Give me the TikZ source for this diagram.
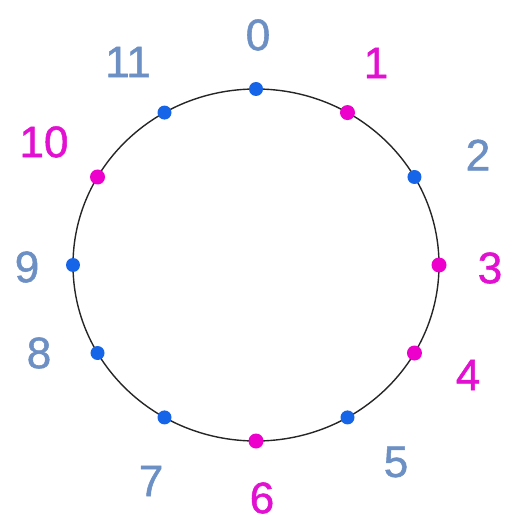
\documentclass[tikz,border=0pt]{standalone}
\usepackage{fontspec}
\setmainfont{Liberation Sans}
\newfontfamily\labfont[FakeBold=1.2]{Liberation Sans}
\definecolor{dotblue}{RGB}{22,100,232}
\definecolor{dotmag}{RGB}{238,0,204}
\definecolor{labblue}{RGB}{108,144,196}
\definecolor{labmag}{RGB}{226,16,208}
\tikzset{
  bdot/.style={circle,fill=dotblue,inner sep=0pt,minimum size=14pt},
  mdot/.style={circle,fill=dotmag,inner sep=0pt,minimum size=15pt},
  blab/.style={text=labblue,inner sep=0pt,font=\labfont\fontsize{44}{48}\selectfont},
  mlab/.style={text=labmag,inner sep=0pt,font=\labfont\fontsize{44}{48}\selectfont},
}
\begin{document}
\begin{tikzpicture}[x=1pt,y=-1pt]
\useasboundingbox (0,0) rectangle (520,521);
\draw[line width=1.4pt,black!85] (256,265) ellipse [x radius=183, y radius=176];
\foreach \i/\s in {0/bdot,1/mdot,2/bdot,3/mdot,4/mdot,5/bdot,6/mdot,7/bdot,8/bdot,9/bdot,10/mdot,11/bdot}{
  \node[\s] (d\i) at ({256+183*sin(30*\i)},{265-176*cos(30*\i)}) {};
}
\node[blab] (l0) at (258,35) {0};
\node[mlab] (l1) at (376,63) {1};
\node[blab] (l2) at (478,155) {2};
\node[mlab] (l3) at (490,268) {3};
\node[mlab] (l4) at (468,375) {4};
\node[blab] (l5) at (396,462) {5};
\node[mlab] (l6) at (262,498) {6};
\node[blab] (l7) at (151,481) {7};
\node[blab] (l8) at (39,353) {8};
\node[blab] (l9) at (27,267) {9};
\node[mlab] (l10) at (44,142) {10};
\node[blab] (l11) at (128,62) {11};
\end{tikzpicture}
\end{document}
